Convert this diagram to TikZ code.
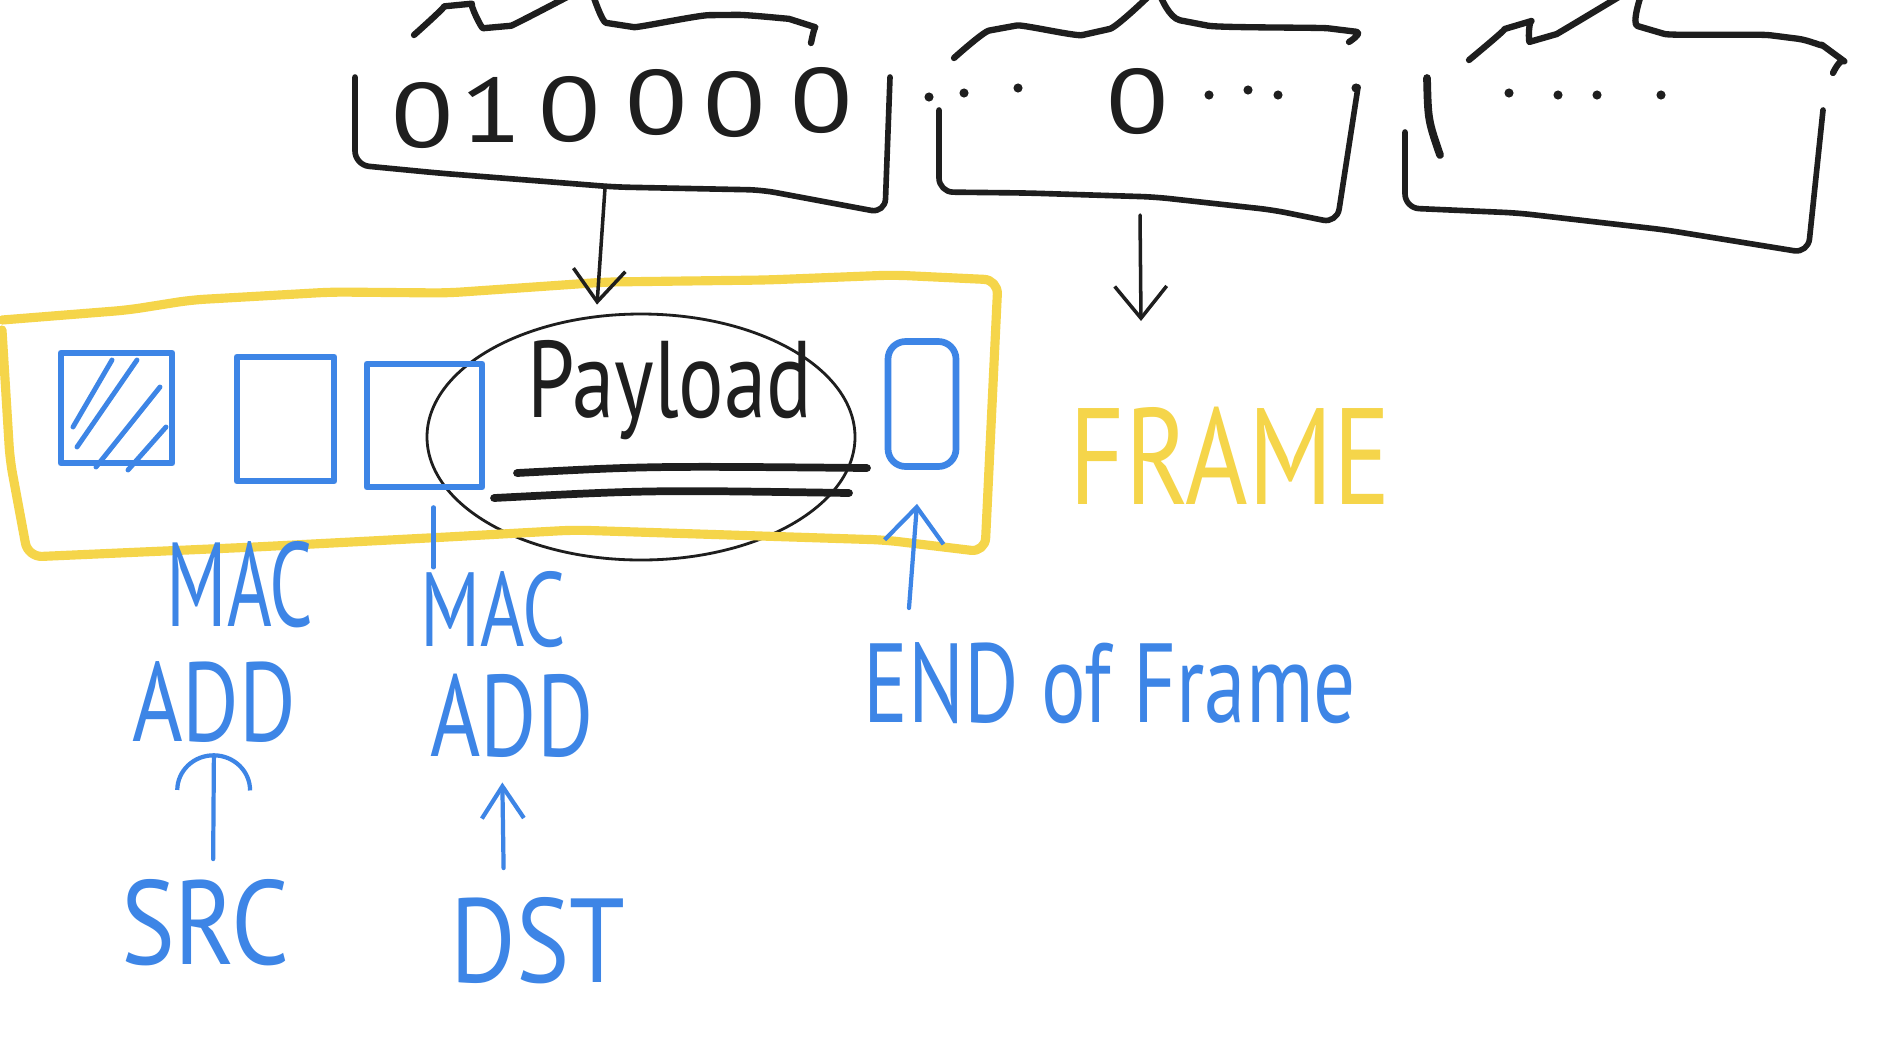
\documentclass[tikz,border=0pt]{standalone}
\usepackage{fontspec}
\setmainfont{PT Sans}
\usetikzlibrary{arrows.meta,shapes.geometric}

\definecolor{penblue}{HTML}{3D85E6}
\definecolor{penyellow}{HTML}{F5D54A}
\definecolor{penblack}{HTML}{1E1E1E}

\tikzset{
	ink/.style={draw=penblack, line width=1.6pt, line cap=round, line join=round, rounded corners=4pt},
	bluepen/.style={draw=penblue, line width=1.9pt, line cap=round, line join=round},
	scrawl/.style 2 args={inner sep=0pt, font=\fontsize{#1}{#1}\selectfont, xscale=#2},
	barb/.style={-{Straight Barb[length=3.2mm, width=5.2mm]}},
}

\begin{document}
\begin{tikzpicture}
	\useasboundingbox (0,0) rectangle (18.8,-10.36);
	\fill[white] (0,0) rectangle (18.8,-10.36);

	% byte boxes on top
	\draw[ink] (3.55,-0.77) -- (3.55,-1.65) -- (4.38,-1.73) -- (6.15,-1.87) -- (7.62,-1.90) -- (8.85,-2.13) -- (8.90,-0.77);
	\draw[ink] (9.39,-1.10) -- (9.39,-1.92) -- (10.27,-1.93) -- (11.55,-1.97) -- (12.73,-2.10) -- (13.37,-2.23) -- (13.58,-0.87);
	\draw[ink] (14.05,-1.32) -- (14.05,-2.08) -- (15.18,-2.13) -- (16.66,-2.30) -- (18.08,-2.53) -- (18.23,-1.10);
	\draw[ink, line width=2.2pt] (14.27,-0.78) .. controls (14.28,-1.20) .. (14.40,-1.55);

	% braces
	\draw[ink, line width=1.8pt] plot[smooth] coordinates {(4.14,-0.35) (4.58,-0.05) (4.97,-0.27) (5.71,0.05)};
	\draw[ink, line width=1.8pt] plot[smooth] coordinates {(5.93,0.05) (6.20,-0.25) (7.23,-0.15) (8.02,-0.23) (8.11,-0.43)};
	\draw[ink, line width=1.8pt] plot[smooth] coordinates {(9.54,-0.58) (10.03,-0.28) (10.96,-0.32) (11.50,0.05)};
	\draw[ink, line width=1.8pt] plot[smooth] coordinates {(11.60,0.05) (11.94,-0.23) (13.42,-0.30) (13.49,-0.42)};
	\draw[ink, line width=1.8pt] plot[smooth] coordinates {(14.69,-0.60) (15.18,-0.25) (15.43,-0.38) (16.22,0.05)};
	\draw[ink, line width=1.8pt] plot[smooth] coordinates {(16.41,0.05) (16.51,-0.30) (17.84,-0.37) (18.33,-0.53) (18.33,-0.73)};

	% bits
	\foreach \b/\x/\y [count=\i] in {0/4.23/-1.16, 1/4.92/-1.10, 0/5.70/-1.10, 0/6.57/-1.03, 0/7.35/-1.05, 0/8.22/-1.01}
		\node[scrawl={26}{1.25}, text=penblack] (bit\i) at (\x,\y) {\b};
	\node[scrawl={26}{1.25}, text=penblack] (bitmid) at (11.38,-1.02) {0};
	\foreach \x/\y in {9.29/-0.97, 9.64/-0.93, 10.18/-0.88, 12.09/-0.95, 12.48/-0.90, 12.78/-0.95, 13.56/-0.88, 15.09/-0.93, 15.58/-0.95, 15.97/-0.95, 16.61/-0.95}
		\fill[penblack] (\x,\y) circle (1.3pt);

	% payload
	\node[draw=penblack, line width=0.8pt, ellipse, minimum width=4.28cm, minimum height=2.46cm] (payloadring) at (6.41,-4.37) {};
	\node[scrawl={31}{0.78}, anchor=base, text=penblack] (payload) at (6.70,-4.17) {Payload};
	\draw[ink, line width=2.2pt] (5.17,-4.73) .. controls (6.50,-4.66) .. (8.67,-4.68);
	\draw[ink, line width=2.2pt] (4.94,-4.98) .. controls (6.50,-4.90) .. (8.49,-4.93);

	% frame outline
	\draw[penyellow, line width=2.6pt, line cap=round, line join=round, rounded corners=4pt]
		(0.02,-3.20) -- (1.28,-3.10) -- (1.91,-3.00) -- (3.32,-2.92) -- (4.47,-2.93) -- (6.06,-2.82) -- (7.66,-2.80) -- (8.93,-2.75) -- (9.98,-2.80)
		-- (9.85,-5.52) -- (8.85,-5.40) -- (5.74,-5.30) -- (4.47,-5.37) -- (2.55,-5.47) -- (0.28,-5.57) -- (0.10,-4.60) -- (0.02,-3.30);
	\node[scrawl={39}{0.78}, text=penyellow] (frametitle) at (12.30,-4.56) {FRAME};

	% fields
	\node[bluepen, minimum width=1.11cm, minimum height=1.10cm] (hatchbox) at (1.165,-4.08) {};
	\draw[bluepen, line width=1.4pt] (0.73,-4.27) -- (1.12,-3.60) (0.77,-4.47) -- (1.37,-3.60) (0.96,-4.67) -- (1.60,-3.87) (1.28,-4.70) -- (1.66,-4.27);
	\node[bluepen, minimum width=0.97cm, minimum height=1.24cm] (srcbox) at (2.855,-4.19) {};
	\node[bluepen, minimum width=1.15cm, minimum height=1.23cm] (dstbox) at (4.245,-4.255) {};
	\node[bluepen, rounded corners=5pt, minimum width=0.68cm, minimum height=1.25cm] (endbox) at (9.22,-4.04) {};

	% labels
	\node[scrawl={34}{0.64}, text=penblue] (macsrc) at (2.40,-5.85) {MAC};
	\node[scrawl={32}{0.77}, text=penblue] (addsrc) at (2.14,-7.02) {ADD};
	\node[scrawl={34}{0.85}, text=penblue] (src) at (2.05,-9.23) {SRC};
	\node[scrawl={30}{0.72}, text=penblue] (macdst) at (4.93,-6.10) {MAC};
	\node[scrawl={33}{0.74}, text=penblue] (adddst) at (5.12,-7.16) {ADD};
	\node[scrawl={34}{0.84}, text=penblue] (dst) at (5.38,-9.41) {DST};
	\node[scrawl={32}{0.74}, anchor=base, text=penblue] (endlabel) at (11.10,-7.22) {END of Frame};

	% arrows
	\coordinate (bytesout) at (6.05,-1.88);
	\coordinate (restout) at (11.40,-2.15);
	\coordinate (restin) at (11.41,-3.21);
	\coordinate (endfoot) at (9.09,-6.08);
	\draw[draw=penblack, line width=1pt, line cap=round, barb] (bytesout) -- ([xshift=-4.4mm, yshift=0.8mm]payloadring.north);
	\draw[draw=penblack, line width=1pt, line cap=round, barb] (restout) -- (restin);
	\draw[bluepen, line width=1.2pt, -{Straight Barb[length=3.5mm, width=5.9mm]}] (endfoot) -- ([xshift=-0.5mm, yshift=-3.4mm]endbox.south);
	\draw[bluepen, line width=1.2pt, -{Arc Barb[length=3.7mm, width=7.7mm]}, shorten <=2mm, shorten >=1mm] ([xshift=0.8mm]src.north) -- (addsrc.south);
	\draw[bluepen, line width=1.2pt, -{Straight Barb[length=3.2mm, width=4.2mm]}, shorten <=2.9mm, shorten >=2.4mm] ([xshift=-3.4mm]dst.north) -- ([xshift=-1mm]adddst.south);
	\draw[bluepen, line width=1.2pt] (dstbox.south) ++(0.09,-0.17) -- ++(0,-0.60);
\end{tikzpicture}
\end{document}
